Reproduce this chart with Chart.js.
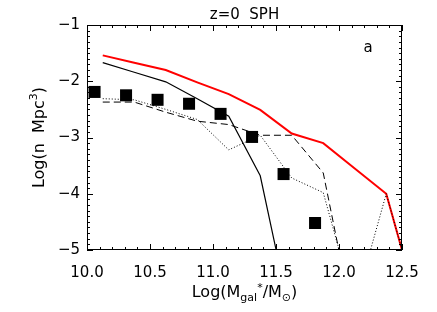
<!DOCTYPE html>
<html>
<head>
<meta charset="utf-8">
<script src="https://cdn.jsdelivr.net/npm/chart.js@4.4.1/dist/chart.umd.min.js"></script>
<style>
  html, body { margin: 0; padding: 0; background: #fff; }
  #wrap { width: 437px; height: 312px; }
</style>
</head>
<body>
<div id="wrap"><canvas id="mf-chart" width="437" height="312"></canvas></div>
<script>
// mass bins (log M*) used by the model curves
const massBins = [10.125, 10.375, 10.625, 10.875, 11.125, 11.375, 11.625, 11.875, 12.125, 12.375, 12.625];
// model curves, log(n Mpc^3); null = no value
const redCurve    = [-1.54, -1.67, -1.80, -2.02, -2.23, -2.51, -2.93, -3.10, -3.55, -4.00, -6.00];
const solidCurve  = [-1.67, -1.84, -2.01, -2.31, -2.62, -3.68, -6.30, null, null, null, null];
const dashedCurve = [-2.37, -2.37, -2.55, -2.71, -2.77, -2.96, -2.96, -3.63, -6.40, null, null];
const dottedCurve = [-2.31, -2.33, -2.50, -2.68, -3.22, -2.96, -3.72, -3.98, -6.00, -4.00, -6.00];
// observed points (filled squares)
const obsMass    = [10.06, 10.31, 10.56, 10.81, 11.06, 11.31, 11.56, 11.81];
const obsDensity = [-2.19, -2.25, -2.33, -2.40, -2.58, -2.99, -3.65, -4.52];

const titleText = 'z=0  SPH';
const panelLetter = 'a';
const FONT = '"DejaVu Sans", sans-serif';

function toPoints(xs, ys) {
    const pts = [];
    for (let i = 0; i < xs.length; i++) {
        if (ys[i] !== null) pts.push({x: xs[i], y: ys[i]});
    }
    return pts;
}

// draw a run of text pieces (for sub/superscripts), centred on cx
function drawRich(ctx, parts, cx, cy) {
    let total = 0;
    parts.forEach(p => {
        ctx.font = p.size + 'px ' + FONT;
        p.w = ctx.measureText(p.text).width;
        total += p.w;
    });
    let xPos = cx - total / 2;
    ctx.textAlign = 'left';
    ctx.textBaseline = 'alphabetic';
    parts.forEach(p => {
        ctx.font = p.size + 'px ' + FONT;
        ctx.fillText(p.text, xPos, cy + (p.dy || 0));
        xPos += p.w;
    });
}

const idlFrame = {
    id: 'idlFrame',
    afterDraw(chart) {
        const ctx = chart.ctx;
        const a = chart.chartArea;
        const xs = chart.scales.x;
        const ys = chart.scales.y;

        ctx.save();
        ctx.strokeStyle = '#000';
        ctx.lineWidth = 1;
        ctx.strokeRect(a.left + 0.5, a.top + 0.5, a.right - a.left - 1, a.bottom - a.top - 1);

        ctx.beginPath();
        for (let i = 0; i <= 25; i++) {
            const px = Math.round(xs.getPixelForValue(10 + i * 0.1)) + 0.5;
            const len = i % 5 === 0 ? 6 : 3;
            ctx.moveTo(px, a.bottom);
            ctx.lineTo(px, a.bottom - len);
            ctx.moveTo(px, a.top);
            ctx.lineTo(px, a.top + len);
        }
        for (let i = 0; i <= 40; i++) {
            const py = Math.round(ys.getPixelForValue(-5 + i * 0.1)) + 0.5;
            const len = i % 10 === 0 ? 6 : 3;
            ctx.moveTo(a.left, py);
            ctx.lineTo(a.left + len, py);
            ctx.moveTo(a.right, py);
            ctx.lineTo(a.right - len, py);
        }
        ctx.stroke();

        ctx.fillStyle = '#000';
        // top title
        ctx.font = '15px ' + FONT;
        ctx.textAlign = 'center';
        ctx.textBaseline = 'middle';
        ctx.fillText(titleText, (a.left + a.right) / 2, 15);
        // panel letter
        ctx.fillText(panelLetter, 368, 48);

        // x axis title
        drawRich(ctx, [
            {text: 'Log(M', size: 16},
            {text: 'gal', size: 11, dy: 4},
            {text: '*', size: 11, dy: -6},
            {text: '/M', size: 16},
            {text: '\u2299', size: 11, dy: 4},
            {text: ')', size: 16}
        ], (a.left + a.right) / 2, 297);

        // y axis title, rotated
        ctx.save();
        ctx.translate(44, (a.top + a.bottom) / 2);
        ctx.rotate(-Math.PI / 2);
        drawRich(ctx, [
            {text: 'Log(n  Mpc', size: 16},
            {text: '3', size: 11, dy: -7},
            {text: ')', size: 16}
        ], 0, 0);
        ctx.restore();

        ctx.restore();
    }
};

const lineBase = {
    type: 'line',
    pointRadius: 0,
    borderWidth: 1,
    borderColor: '#000',
    fill: false,
    tension: 0,
    clip: 0
};

new Chart(document.getElementById('mf-chart').getContext('2d'), {
    data: {
        datasets: [
            {
                type: 'scatter',
                data: toPoints(obsMass, obsDensity),
                pointStyle: 'rect',
                pointRadius: 8.5,
                backgroundColor: '#000',
                borderWidth: 0,
                showLine: false,
                clip: false
            },
            Object.assign({}, lineBase, {data: toPoints(massBins, solidCurve), borderWidth: 1.2}),
            Object.assign({}, lineBase, {data: toPoints(massBins, dashedCurve), borderDash: [7, 4]}),
            Object.assign({}, lineBase, {data: toPoints(massBins, dottedCurve), borderDash: [1, 2]}),
            Object.assign({}, lineBase, {data: toPoints(massBins, redCurve), borderColor: '#ff0000', borderWidth: 2})
        ]
    },
    options: {
        responsive: false,
        animation: false,
        devicePixelRatio: 1,
        layout: {padding: {left: 0, right: 35, top: 25, bottom: 0}},
        plugins: {
            legend: {display: false},
            tooltip: {enabled: false},
            title: {display: false}
        },
        scales: {
            x: {
                type: 'linear',
                min: 10,
                max: 12.5,
                grid: {display: false, drawTicks: false},
                border: {display: false},
                ticks: {
                    stepSize: 0.5,
                    padding: 14,
                    color: '#000',
                    maxRotation: 0,
                    autoSkip: false,
                    font: {family: FONT, size: 15},
                    callback: v => v.toFixed(1)
                },
                afterFit: s => { s.height = 62; }
            },
            y: {
                type: 'linear',
                min: -5,
                max: -1,
                grid: {display: false, drawTicks: false},
                border: {display: false},
                ticks: {
                    stepSize: 1,
                    padding: 7,
                    color: '#000',
                    font: {family: FONT, size: 15},
                    callback: v => '\u2212' + Math.abs(v)
                },
                afterFit: s => { s.width = 87; }
            }
        }
    },
    plugins: [idlFrame]
});
</script>
</body>
</html>
